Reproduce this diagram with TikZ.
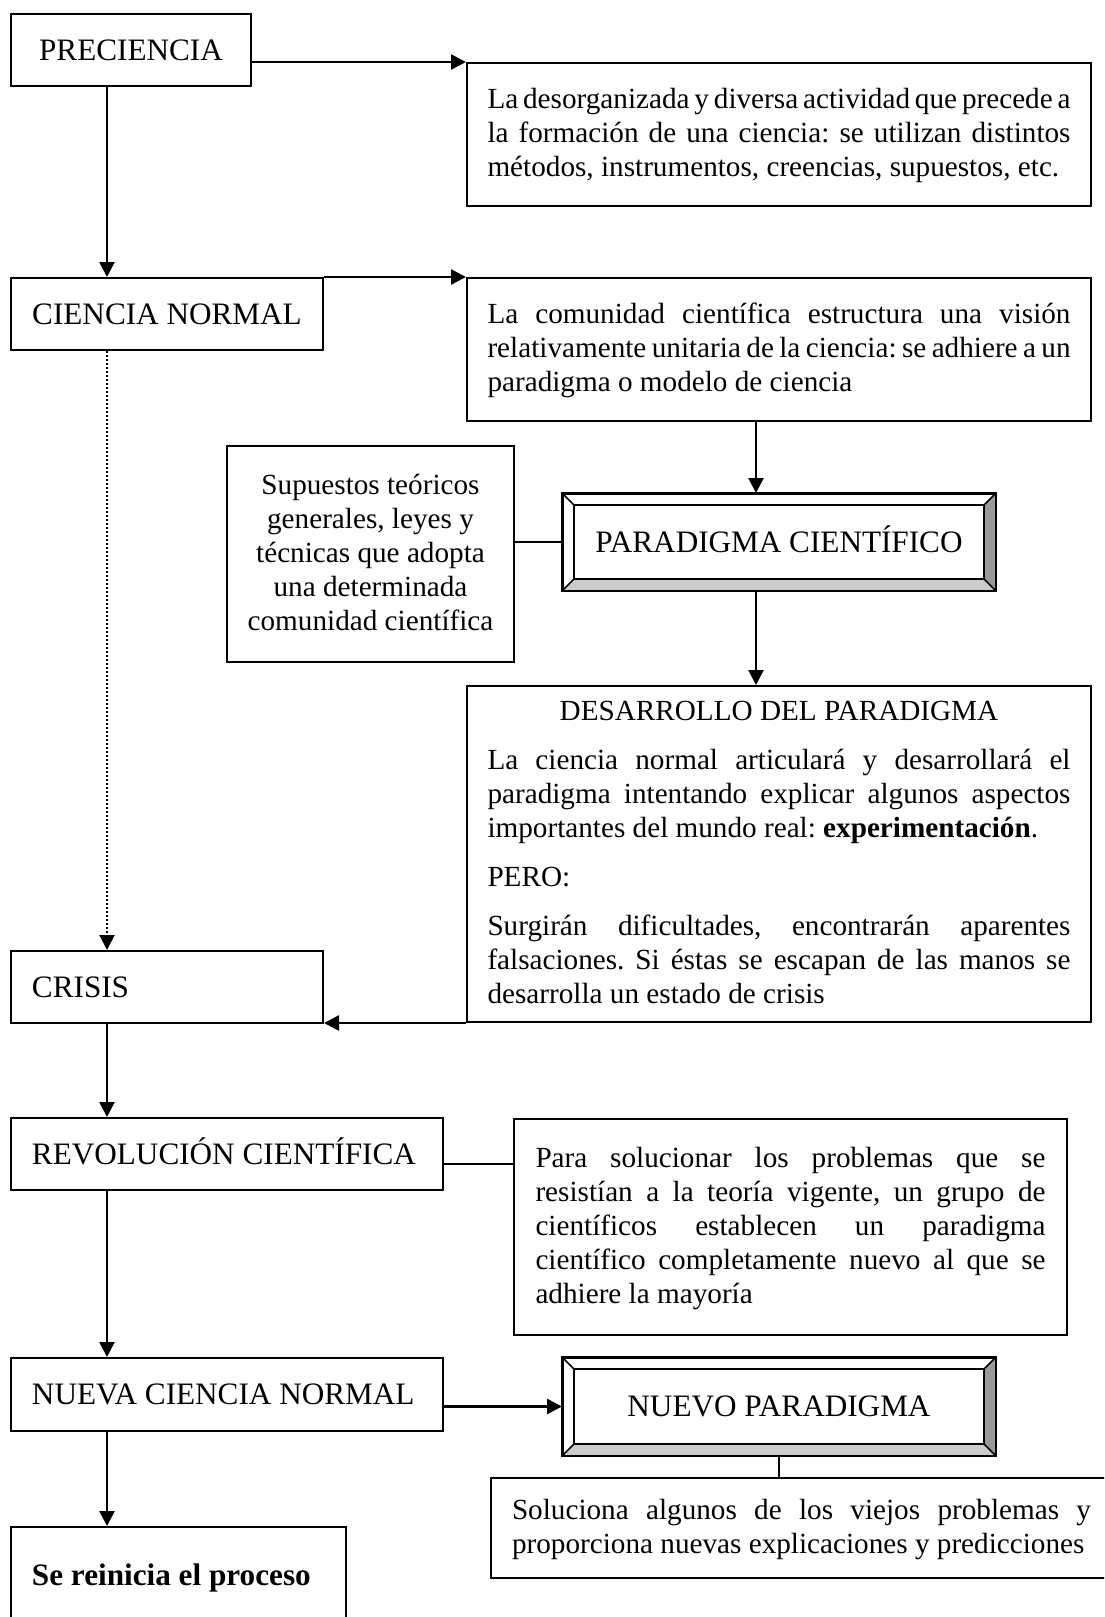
\documentclass[tikz,border=0pt]{standalone}
\usepackage{fontspec}
\setmainfont{Liberation Serif}
\usetikzlibrary{arrows.meta,calc}
\definecolor{bevR}{HTML}{999999}
\definecolor{bevB}{HTML}{CCCCCC}
\newcommand\bstrut{\vrule height .8em depth .25em width 0pt\relax}
\newcommand\lstrut{\vrule height .85em depth .19em width 0pt\relax}
\newcommand\rowj[1]{\hbox to\hsize{\bstrut#1}}
\newcommand\rowl[1]{\hbox to\hsize{\bstrut#1\hfil}}
\newcommand\rowc[1]{\hbox to\hsize{\hfil\bstrut#1\hfil}}
\newcommand\labl[1]{\hbox to\hsize{\lstrut#1\hfil}}
\newcommand\blk[2]{\vbox{\hsize=#1\relax#2}}
\newcommand\bodyfont{\fontsize{14.6pt}{17pt}\selectfont\frenchspacing\spaceskip=.25em plus .6em minus .12em\relax}
\newcommand\lblfont{\fontsize{15.6pt}{19pt}\selectfont\frenchspacing}
\begin{document}
\begin{tikzpicture}[x=0.5pt,y=-0.5pt,
  box/.style={draw, line width=1pt, fill=white, inner sep=0pt},
  arr/.style={line width=1.3pt, -{Triangle[length=7.5pt,width=7.5pt]}},
  link/.style={line width=0.85pt},
  dotline/.style={line width=1pt, dash pattern=on 1pt off 1pt}]
\useasboundingbox (0,0) rectangle (1104,1617);
\fill[white] (0,0) rectangle (1104,1617);
\clip (0,0) rectangle (1104,1617);
\coordinate (spine) at (107,0);
\coordinate (rspine) at (756,0);
\coordinate (rp) at (0,1164);

\node[box, minimum width=120pt, minimum height=36pt, font=\lblfont] (prec) at (131,50) {\lstrut PRECIENCIA};
\node[box, minimum width=312pt, minimum height=71.5pt, font=\bodyfont] (d1) at (779,134.5) {\blk{291.5pt}{%
 \rowj{La desorganizada y diversa actividad que precede a}
 \rowj{la formación de una ciencia: se utilizan distintos}
 \rowl{métodos, instrumentos, creencias, supuestos, etc.}}};
\node[box, minimum width=156pt, minimum height=36pt, font=\lblfont] (cn) at (167,314) {\lstrut CIENCIA NORMAL};
\node[box, minimum width=312pt, minimum height=71.5pt, font=\bodyfont] (d2) at (779,349.5) {\blk{291.5pt}{%
 \rowj{La comunidad científica estructura una visión}
 \rowj{relativamente unitaria de la ciencia: se adhiere a un}
 \rowl{paradigma o modelo de ciencia}}};
\node[box, minimum width=216pt, minimum height=48pt, font=\lblfont] (pc) at (779,542) {\lstrut PARADIGMA CIENTÍFICO};
\node[box, minimum width=143.5pt, minimum height=108pt, font=\bodyfont] (sup) at (370.5,554) {\blk{132pt}{%
 \rowc{Supuestos teóricos}
 \rowc{generales, leyes y}
 \rowc{técnicas que adopta}
 \rowc{una determinada}
 \rowc{comunidad científica}}};
\node[box, minimum width=312pt, minimum height=168pt, font=\bodyfont] (des) at (779,854) {\blk{291.5pt}{%
 \rowc{DESARROLLO DEL PARADIGMA}\vskip7.5pt
 \rowj{La ciencia normal articulará y desarrollará el}
 \rowj{paradigma intentando explicar algunos aspectos}
 \rowl{importantes del mundo real: \textbf{experimentación}.}\vskip7.5pt
 \rowl{PERO:}\vskip7.5pt
 \rowj{Surgirán dificultades, encontrarán aparentes}
 \rowj{falsaciones. Si éstas se escapan de las manos se}
 \rowl{desarrolla un estado de crisis}}};
\node[box, minimum width=156pt, minimum height=36pt, font=\lblfont] (cri) at (167,987) {\blk{135pt}{\labl{CRISIS}}};
\node[box, minimum width=216pt, minimum height=36pt, font=\lblfont] (rev) at (227,1154) {\blk{195pt}{\labl{REVOLUCIÓN CIENTÍFICA}}};
\node[box, minimum width=276.5pt, minimum height=108pt, font=\bodyfont] (para) at (790.5,1227) {\blk{255pt}{%
 \rowj{Para solucionar los problemas que se}
 \rowj{resistían a la teoría vigente, un grupo de}
 \rowj{científicos establecen un paradigma}
 \rowj{científico completamente nuevo al que se}
 \rowl{adhiere la mayoría}}};
\node[box, minimum width=216pt, minimum height=36.5pt, font=\lblfont] (ncn) at (227,1394.5) {\blk{195pt}{\labl{NUEVA CIENCIA NORMAL}}};
\node[box, minimum width=216pt, minimum height=48.5pt, font=\lblfont] (np) at (779,1406.5) {\lstrut NUEVO PARADIGMA};
\node[box, minimum width=310.5pt, minimum height=50pt, font=\bodyfont] (sol) at (801.5,1528) {\blk{289.5pt}{%
 \rowj{Soluciona algunos de los viejos problemas y}
 \rowl{proporciona nuevas explicaciones y predicciones}}};
\node[box, minimum width=167.5pt, minimum height=49pt, font=\lblfont] (sri) at (178.5,1576) {\blk{146.5pt}{\labl{\textbf{Se reinicia el proceso}}}};

% bevels
\foreach \n in {pc,np} {
  \fill[bevR] (\n.north east) -- (\n.south east) -- ($(\n.south east)+(-12,-12)$) -- ($(\n.north east)+(-12,12)$) -- cycle;
  \fill[bevB] (\n.south west) -- (\n.south east) -- ($(\n.south east)+(-12,-12)$) -- ($(\n.south west)+(12,-12)$) -- cycle;
  \draw[line width=1pt] ($(\n.north west)+(12,12)$) rectangle ($(\n.south east)+(-12,-12)$);
  \draw[line width=0.8pt] (\n.north west) -- ($(\n.north west)+(12,12)$)
    (\n.north east) -- ($(\n.north east)+(-12,12)$)
    (\n.south east) -- ($(\n.south east)+(-12,-12)$)
    (\n.south west) -- ($(\n.south west)+(12,-12)$);
  \draw[line width=1pt] (\n.north west) rectangle (\n.south east);
}

% connectors
\draw[arr] (prec.east |- d1.north west) -- (d1.north west);
\draw[arr] (prec.south -| spine) -- (cn.north -| spine);
\draw[arr] (cn.north east) -- (d2.north west);
\draw[arr, dotline] (cn.south -| spine) -- (cri.north -| spine);
\draw[arr] (d2.south -| rspine) -- (pc.north -| rspine);
\draw[link] (pc.west) -- (pc.west -| sup.east);
\draw[arr] (pc.south -| rspine) -- (des.north -| rspine);
\draw[arr] (des.south west) -- (des.south west -| cri.east);
\draw[arr] (cri.south -| spine) -- (rev.north -| spine);
\draw[link] (rev.east |- rp) -- (para.west |- rp);
\draw[arr] (rev.south -| spine) -- (ncn.north -| spine);
\draw[arr] (np.west -| ncn.east) -- (np.west);
\draw[link] (np.south) -- (np.south |- sol.north);
\draw[arr] (ncn.south -| spine) -- (sri.north -| spine);
\end{tikzpicture}
\end{document}
